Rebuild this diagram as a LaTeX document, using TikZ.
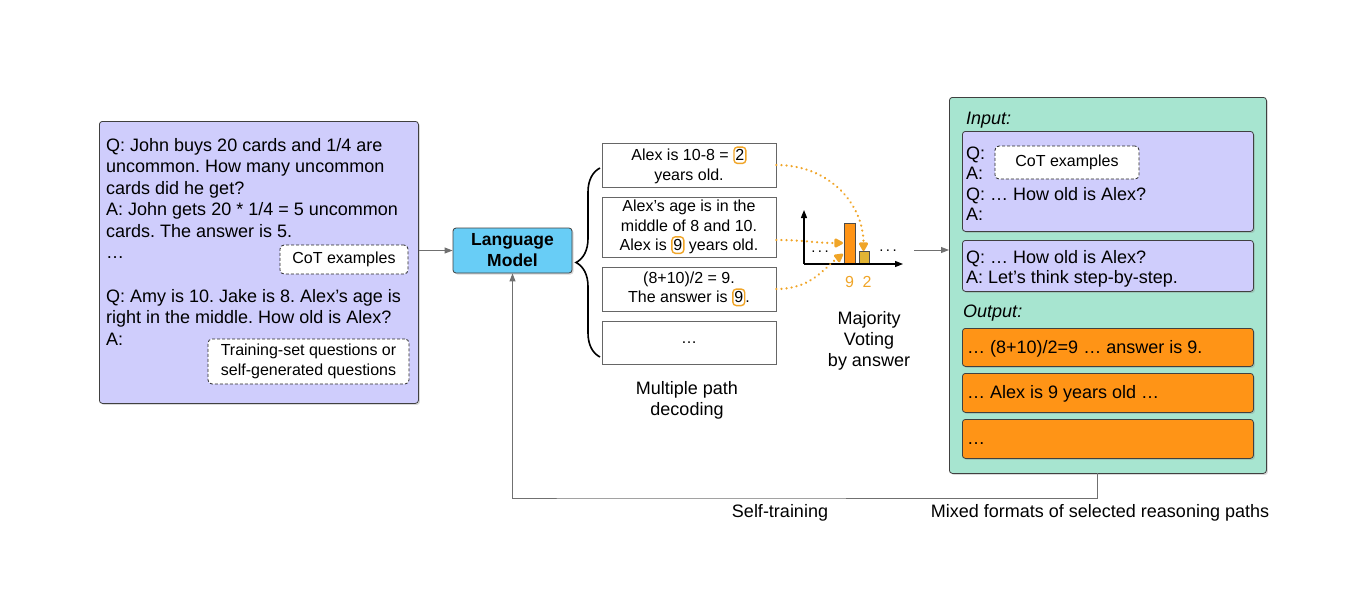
\documentclass[tikz,border=0pt]{standalone}
\usepackage{fontspec}
\setmainfont{Liberation Sans}
\usetikzlibrary{shadows,arrows.meta,decorations.pathreplacing}
\definecolor{lav}{RGB}{207,205,252}
\definecolor{mint}{RGB}{167,229,208}
\definecolor{outor}{RGB}{255,148,22}
\definecolor{lmblue}{RGB}{104,205,246}
\definecolor{annot}{RGB}{240,165,40}
\definecolor{bar2}{RGB}{226,180,52}
\definecolor{conngray}{RGB}{112,112,112}
\frenchspacing
\newcommand{\hlbox}[1]{\tikz[baseline=(hb.base)]\node[draw=annot,fill=none,line width=1.4pt,rounded corners=3.5pt,minimum width=0pt,minimum height=0pt,inner xsep=1.5pt,inner ysep=2.6pt] (hb) {#1};}
\begin{document}
\begin{tikzpicture}[x=1pt,y=-1pt,
  panel/.style={draw=black!75,line width=0.8pt,rounded corners=3pt,
    drop shadow={shadow xshift=1.5pt,shadow yshift=-1.5pt,opacity=0.3},anchor=north west,inner sep=0pt},
  txt/.style={font=\fontsize{18}{21}\selectfont,inner sep=0pt,anchor=base west},
  small/.style={font=\fontsize{16}{19.5}\selectfont},
  dashbox/.style={draw=black!85,line width=0.8pt,dash pattern=on 3pt off 2pt,rounded corners=4pt,fill=white,align=center,small,inner sep=0pt},
  pbox/.style={draw=black!60,line width=0.6pt,fill=white,align=center,small,inner sep=0pt},
  conn/.style={draw=conngray,line width=0.9pt,-{Triangle[length=8pt,width=6pt]}},
  vote/.style={draw=annot,line width=2.4pt,line cap=round,dash pattern=on 0.1pt off 5pt,-{Triangle[length=10pt,width=10pt,round]}},
  bar/.style={draw=black!70,line width=0.6pt,anchor=south west,inner sep=0pt},
  lbl/.style={font=\fontsize{18}{21}\selectfont,align=center,inner sep=0pt}
]
\useasboundingbox (0,0) rectangle (1367,592);

% left panel
\node[panel,fill=lav,minimum width=319pt,minimum height=282pt] (left) at (99,121) {};
\foreach \t [count=\i] in {{Q: John buys 20 cards and 1/4 are},{uncommon. How many uncommon},{cards did he get?},{A: John gets 20 * 1/4 = 5 uncommon},{cards. The answer is 5.},{…}}
  \node[txt] (la\i) at (106,{151+21.5*(\i-1)}) {\t};
\foreach \t [count=\i] in {{Q: Amy is 10. Jake is 8. Alex’s age is},{right in the middle. How old is Alex?},{A:}}
  \node[txt] (lb\i) at (106,{302+21.5*(\i-1)}) {\t};
\node[dashbox,minimum width=128pt,minimum height=29pt] (cot1) at (344,259.5) {CoT examples};
\node[dashbox,minimum width=201pt,minimum height=45pt] (train) at (308.5,361.5) {Training-set questions or\\self-generated questions};

% language model
\node[panel,fill=lmblue,minimum width=119pt,minimum height=45pt,anchor=center,align=center,
  font=\fontsize{17.5}{21}\selectfont\bfseries] (lm) at (512.5,250.5) {Language\\Model};
\draw[conn] (left.east |- lm.west) -- (lm.west);

% brace
\coordinate (brb) at (600,357);
\coordinate (brt) at (600,168);
\draw[line width=1.6pt,decorate,decoration={brace,amplitude=24pt,aspect=0.5}] (brb) -- (brt);

% paths
\node[pbox,minimum width=174pt,minimum height=44pt] (p1) at (689,165) {Alex is 10-8 = \hlbox{2}\\years old.};
\node[pbox,minimum width=174pt,minimum height=60pt] (p2) at (689,227) {Alex’s age is in the\\middle of 8 and 10.\\Alex is \hlbox{9} years old.};
\node[pbox,minimum width=174pt,minimum height=44pt] (p3) at (689,289) {(8+10)/2 = 9.\\The answer is \hlbox{9}.};
\node[pbox,minimum width=174pt,minimum height=43pt] (p4) at (689,342.5) {…};
\node[lbl] (mpd) at (687,400) {Multiple path\\decoding};

% chart
\coordinate (org) at (804,264);
\coordinate (yend) at (804,210);
\coordinate (xend) at (903,264);
\node[bar,fill=outor,minimum width=11pt,minimum height=40pt] (b9) at (844,264) {};
\node[bar,fill=bar2,minimum width=10pt,minimum height=12pt] (b2) at (859,264) {};
\draw[line width=1.2pt,-{Triangle[length=8pt,width=6pt]}] (org) -- (yend);
\draw[line width=1.2pt,-{Triangle[length=8pt,width=6pt]}] (org) -- (xend);
\node[font=\fontsize{15}{18}\selectfont,inner sep=0pt] (d1) at (820,252) {.\,.\,.};
\node[font=\fontsize{15}{18}\selectfont,inner sep=0pt] (d2) at (888,251) {.\,.\,.};
\node[font=\fontsize{16}{18}\selectfont,text=annot,inner sep=0pt] (l9) at (849.5,282) {9};
\node[font=\fontsize{16}{18}\selectfont,text=annot,inner sep=0pt] (l2) at (867,282) {2};
\coordinate (t2) at (863.5,251);
\coordinate (t9a) at (843,243);
\coordinate (t9b) at (843,254);
\draw[vote] (p1.east) .. controls +(55,0) and +(0,-45) .. (t2);
\draw[vote] (p2.east |- 0,240) .. controls +(30,0) and +(-30,0) .. (t9a);
\draw[vote] (p3.east) .. controls +(35,0) and +(-20,15) .. (t9b);
\node[lbl] (mv) at (869,341) {Majority\\Voting\\by answer};

% right panel
\node[panel,fill=mint,minimum width=317pt,minimum height=376pt] (right) at (949,97) {};
\draw[conn] (914,250) coordinate (vs) -- (right.west |- vs);
\node[txt,font=\fontsize{18}{21}\selectfont\itshape] (inlbl) at (966,124) {Input:};
\node[panel,fill=lav,minimum width=291pt,minimum height=100pt] (in1) at (962,131) {};
\foreach \t [count=\i] in {{Q:},{A:},{Q: … How old is Alex?},{A:}}
  \node[txt] (ia\i) at (966,{159+20.5*(\i-1)}) {\t};
\node[dashbox,minimum width=144pt,minimum height=33pt] (cot2) at (1067,162.5) {CoT examples};
\node[panel,fill=lav,minimum width=291pt,minimum height=51pt] (in2) at (962,240) {};
\node[txt] (ib1) at (966,263) {Q: … How old is Alex?};
\node[txt] (ib2) at (966,283.5) {A: Let’s think step-by-step.};
\node[txt,font=\fontsize{18}{21}\selectfont\itshape] (outlbl) at (963,317) {Output:};
\node[panel,fill=outor,minimum width=291pt,minimum height=38pt] (o1) at (962,328) {};
\node[txt] (o1t) at (967,353) {… (8+10)/2=9 … answer is 9.};
\node[panel,fill=outor,minimum width=291pt,minimum height=39pt] (o2) at (962,373) {};
\node[txt] (o2t) at (967,398.5) {… Alex is 9 years old …};
\node[panel,fill=outor,minimum width=291pt,minimum height=39pt] (o3) at (962,419) {};
\node[txt] (o3t) at (967,444) {…};

% feedback loop
\coordinate (fbs) at (1097,473);
\coordinate (fbc) at (600,498);
\draw[conn] (fbs) |- (fbc) -| (lm.south);
\node[lbl] (st) at (780,513) {Self-training};
\node[lbl] (mf) at (1100,513) {Mixed formats of selected reasoning paths};
\end{tikzpicture}
\end{document}
